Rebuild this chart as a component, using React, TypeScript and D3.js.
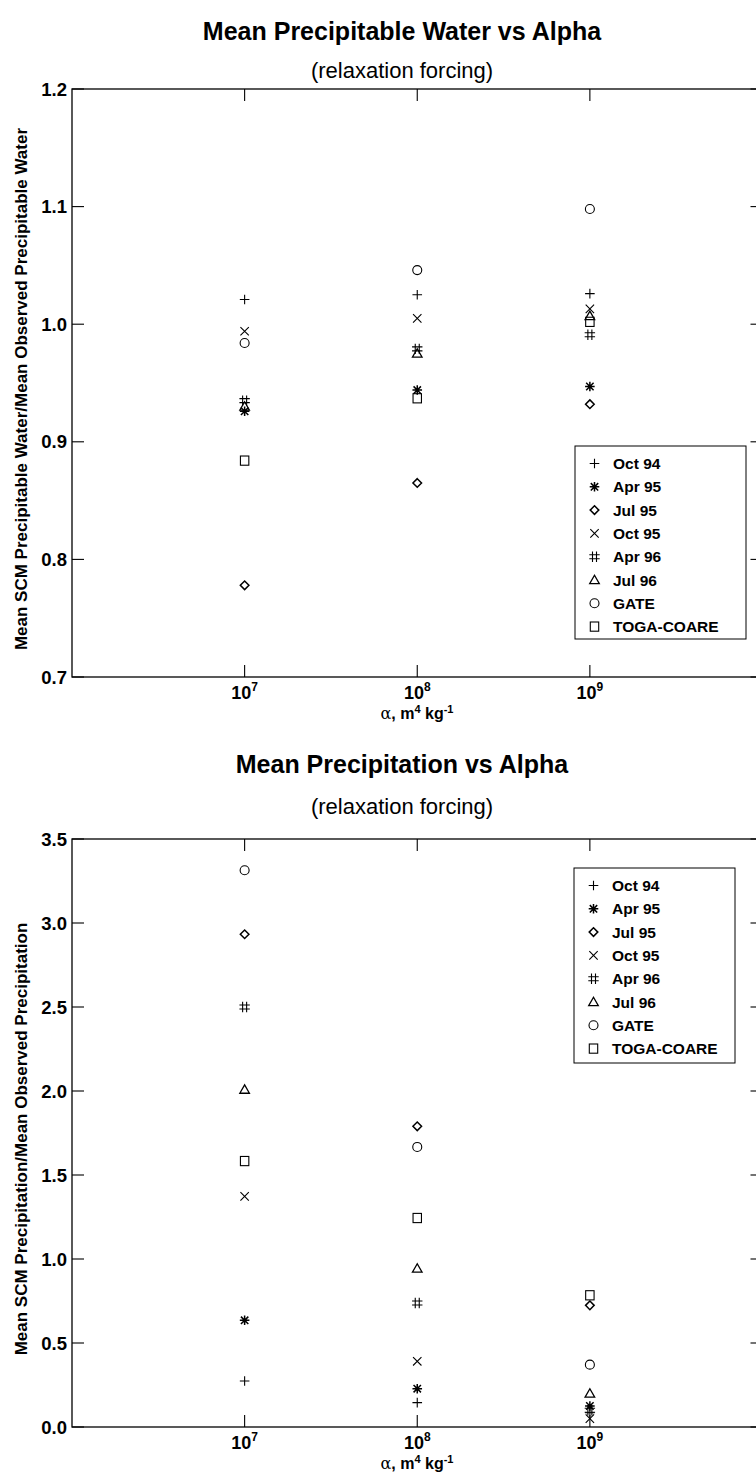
import React from 'react';
import * as d3 from 'd3';

// alpha values on the x axis
const alphas = [1e7, 1e8, 1e9];
const xTickExp = [7, 8, 9];

const seriesNames = ['Oct 94', 'Apr 95', 'Jul 95', 'Oct 95', 'Apr 96', 'Jul 96', 'GATE', 'TOGA-COARE'];
const markerTypes = ['plus', 'asterisk', 'diamond', 'cross', 'hash', 'triangle', 'circle', 'square'];

// Mean SCM precipitable water / mean observed precipitable water
const waterOct94 = [1.021, 1.025, 1.026];
const waterApr95 = [0.926, 0.944, 0.947];
const waterJul95 = [0.778, 0.865, 0.932];
const waterOct95 = [0.994, 1.005, 1.013];
const waterApr96 = [0.935, 0.979, 0.991];
const waterJul96 = [0.93, 0.975, 1.007];
const waterGate = [0.984, 1.046, 1.098];
const waterToga = [0.884, 0.937, 1.002];

// Mean SCM precipitation / mean observed precipitation
const precOct94 = [0.274, 0.145, 0.085];
const precApr95 = [0.635, 0.228, 0.125];
const precJul95 = [2.933, 1.79, 0.724];
const precOct95 = [1.373, 0.391, 0.05];
const precApr96 = [2.5, 0.738, 0.1];
const precJul96 = [2.008, 0.943, 0.199];
const precGate = [3.314, 1.667, 0.371];
const precToga = [1.583, 1.244, 0.784];

const waterTicks = [0.7, 0.8, 0.9, 1.0, 1.1, 1.2];
const precTicks = [0.0, 0.5, 1.0, 1.5, 2.0, 2.5, 3.0, 3.5];

const FONT = '"Liberation Sans", Arial, Helvetica, sans-serif';

const Marker = ({ type, cx, cy }: { type: string; cx: number; cy: number }) => {
  const s = 4.8;
  const p = { stroke: '#000', strokeWidth: 1.1, fill: 'none' };
  switch (type) {
    case 'plus':
      return <path d={`M${cx - s},${cy}H${cx + s}M${cx},${cy - s}V${cy + s}`} {...p} />;
    case 'cross':
      return <path d={`M${cx - 4.2},${cy - 4.2}L${cx + 4.2},${cy + 4.2}M${cx - 4.2},${cy + 4.2}L${cx + 4.2},${cy - 4.2}`} {...p} />;
    case 'asterisk':
      return (
        <path
          d={`M${cx - s},${cy}H${cx + s}M${cx},${cy - s}V${cy + s}M${cx - 3.7},${cy - 3.7}L${cx + 3.7},${cy + 3.7}M${cx - 3.7},${cy + 3.7}L${cx + 3.7},${cy - 3.7}`}
          {...p}
          strokeWidth={1.5}
        />
      );
    case 'diamond':
      return <path d={`M${cx},${cy - 4.3}L${cx + 4.3},${cy}L${cx},${cy + 4.3}L${cx - 4.3},${cy}Z`} {...p} strokeWidth={1.5} />;
    case 'hash':
      return (
        <path
          d={`M${cx - 2},${cy - 5.2}V${cy + 5.2}M${cx + 2},${cy - 5.2}V${cy + 5.2}M${cx - 5.2},${cy - 2}H${cx + 5.2}M${cx - 5.2},${cy + 2}H${cx + 5.2}`}
          {...p}
        />
      );
    case 'triangle':
      return <path d={`M${cx},${cy - 4.8}L${cx + 4.8},${cy + 3.6}L${cx - 4.8},${cy + 3.6}Z`} {...p} strokeWidth={1.3} />;
    case 'circle':
      return <circle cx={cx} cy={cy} r={4.5} {...p} />;
    case 'square':
      return <rect x={cx - 4.2} y={cy - 4.6} width={8.4} height={9.2} {...p} />;
    default:
      return null;
  }
};

type PanelProps = {
  top: number;
  bottom: number;
  domain: [number, number];
  ticks: number[];
  series: number[][];
  title: string;
  titleY: number;
  subY: number;
  yLabel: string;
  legend: { x0: number; x1: number; y0: number; y1: number };
};

const Panel = ({ top, bottom, domain, ticks, series, title, titleY, subY, yLabel, legend }: PanelProps) => {
  const left = 72;
  const right = 762.5;
  const x = d3.scaleLog().domain([1e6, 1e10]).range([left, right]);
  const y = d3.scaleLinear().domain(domain).range([bottom, top]);
  const tickLen = 12;
  const rowH = 23.3;

  return (
    <g>
      <text x={402} y={titleY} textAnchor="middle" fontFamily={FONT} fontWeight="bold" fontSize={25}>
        {title}
      </text>
      <text x={402} y={subY} textAnchor="middle" fontFamily={FONT} fontSize={22}>
        (relaxation forcing)
      </text>

      {/* frame */}
      <rect x={left} y={top} width={right - left} height={bottom - top} fill="none" stroke="#000" strokeWidth={1.3} />

      {/* y ticks */}
      {ticks.map((t) => (
        <g key={t}>
          <line x1={left} x2={left + tickLen} y1={y(t)} y2={y(t)} stroke="#000" strokeWidth={1.1} />
          <line x1={right} x2={right - tickLen} y1={y(t)} y2={y(t)} stroke="#000" strokeWidth={1.1} />
          <text
            x={left - 5}
            y={y(t)}
            dy="0.36em"
            textAnchor="end"
            fontFamily={FONT}
            fontWeight="bold"
            fontSize={18.5}
          >
            {d3.format('.1f')(t)}
          </text>
        </g>
      ))}

      {/* x ticks */}
      {alphas.map((a, i) => (
        <g key={a}>
          <line x1={x(a)} x2={x(a)} y1={bottom} y2={bottom - tickLen} stroke="#000" strokeWidth={1.1} />
          <line x1={x(a)} x2={x(a)} y1={top} y2={top + tickLen} stroke="#000" strokeWidth={1.1} />
          <text x={x(a)} y={bottom + 22} textAnchor="middle" fontFamily={FONT} fontWeight="bold" fontSize={18}>
            10
            <tspan fontSize={12} dy={-8}>
              {xTickExp[i]}
            </tspan>
          </text>
        </g>
      ))}

      <text x={417} y={bottom + 42} textAnchor="middle" fontFamily={FONT} fontWeight="bold" fontSize={16}>
        <tspan fontFamily="DejaVu Serif, serif" fontWeight="normal">α</tspan>, m
        <tspan fontSize={11} dy={-6}>4</tspan>
        <tspan dy={6}> kg</tspan>
        <tspan fontSize={11} dy={-6}>-1</tspan>
      </text>

      <text
        transform={`translate(21,${(top + bottom) / 2 + 6}) rotate(-90)`}
        textAnchor="middle"
        dy="0.35em"
        fontFamily={FONT}
        fontWeight="bold"
        fontSize={17}
      >
        {yLabel}
      </text>

      {/* points */}
      {series.map((vals, si) =>
        vals.map((v, i) => <Marker key={`${si}-${i}`} type={markerTypes[si]} cx={x(alphas[i])} cy={y(v)} />)
      )}

      {/* legend */}
      <rect
        x={legend.x0}
        y={legend.y0}
        width={legend.x1 - legend.x0}
        height={legend.y1 - legend.y0}
        fill="#fff"
        stroke="#000"
        strokeWidth={1}
      />
      {seriesNames.map((name, i) => {
        const ry = legend.y0 + 17.5 + i * rowH;
        return (
          <g key={name}>
            <Marker type={markerTypes[i]} cx={legend.x0 + 19.5} cy={ry} />
            <text x={legend.x0 + 38} y={ry} dy="0.36em" fontFamily={FONT} fontWeight="bold" fontSize={15.5}>
              {name}
            </text>
          </g>
        );
      })}
    </g>
  );
};

const App = () => {
  const waterSeries = [waterOct94, waterApr95, waterJul95, waterOct95, waterApr96, waterJul96, waterGate, waterToga];
  const precSeries = [precOct94, precApr95, precJul95, precOct95, precApr96, precJul96, precGate, precToga];

  return (
    <svg
      width={756}
      height={1476}
      style={{ position: 'absolute', left: 0, top: 0, background: '#fff' }}
      xmlns="http://www.w3.org/2000/svg"
    >
      <rect width={756} height={1476} fill="#fff" />
      <Panel
        top={89}
        bottom={677}
        domain={[0.7, 1.2]}
        ticks={waterTicks}
        series={waterSeries}
        title="Mean Precipitable Water vs Alpha"
        titleY={40}
        subY={78}
        yLabel="Mean SCM Precipitable Water/Mean Observed Precipitable Water"
        legend={{ x0: 575, x1: 746, y0: 446, y1: 639 }}
      />
      <Panel
        top={839}
        bottom={1427}
        domain={[0, 3.5]}
        ticks={precTicks}
        series={precSeries}
        title="Mean Precipitation vs Alpha"
        titleY={773}
        subY={814}
        yLabel="Mean SCM Precipitation/Mean Observed Precipitation"
        legend={{ x0: 574, x1: 735, y0: 868, y1: 1063 }}
      />
    </svg>
  );
};

export default App;
